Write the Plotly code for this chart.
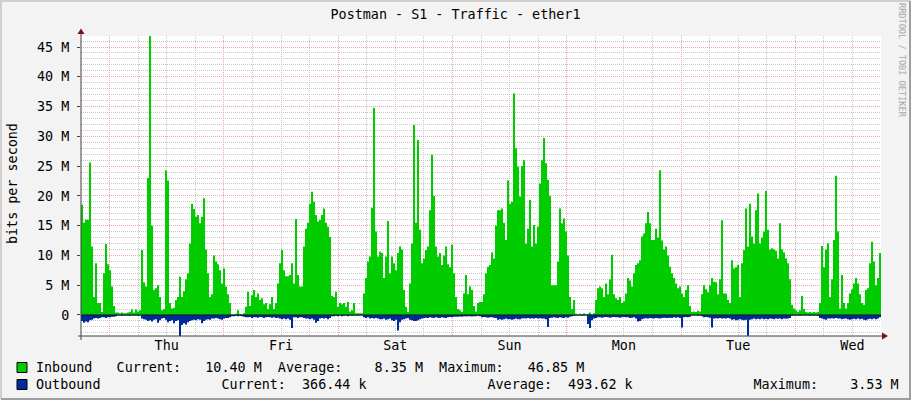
import plotly.graph_objects as go
import pandas as pd

# Traffic readings in Mbit/s, one every 1512 s, Wed 18:00 -> next Wed 18:00
inbound = [
    18.5, 15.5, 16, 16, 25.6, 11.5, 3, 8.7, 2, 2,
    0.5, 7, 11.9, 8.5, 7.5, 4.8, 1.5, 0.4, 0.4, 0.3,
    0.4, 0.3, 0.3, 0.4, 0.5, 0.9, 0.4, 0.9, 0.6, 0.8,
    10.9, 5.5, 4.8, 23, 46.85, 15, 4.2, 4.5, 5, 3,
    0.8, 1.0, 24.3, 22.6, 2, 1.1, 1.2, 2.5, 3, 6.4,
    3, 4, 6, 7, 12, 18.7, 17.8, 16.5, 16.8, 15.4,
    16.5, 19.6, 11, 7, 3, 3.5, 10, 9, 8.5, 7.5,
    5.3, 7.8, 4.8, 3.5, 2, 0.1, 0.1, 0.2, 0.8, 0.2,
    0.1, 0.3, 1.4, 3.9, 1.5, 3.3, 4.2, 3, 3.6, 2.5,
    2.8, 1.8, 2, 1, 1.8, 3, 1, 2, 5.3, 8.7,
    10.9, 7.5, 6.5, 6.5, 6.7, 8.7, 5.3, 16.1, 6.7, 4.8,
    4.8, 11.5, 14.5, 15.5, 18.7, 20.7, 19, 16.8, 15.7, 16,
    16.8, 17.9, 15.5, 14.8, 13.1, 3.2, 3, 3.9, 1.4, 2,
    1.8, 2, 1.4, 2.2, 0.6, 0.8, 2, 0.3, 0.3, 0.3,
    0.3, 3.6, 6.2, 9, 9.8, 18, 34.8, 14, 9.8, 10.6,
    10.4, 6.2, 9.8, 15.8, 7, 9.8, 8.7, 7.5, 10.4, 11.5,
    11, 4.2, 1.4, 0.5, 5.3, 12, 31.9, 15.5, 29.4, 14.3,
    8.7, 9.5, 10.9, 11.5, 17.6, 26.9, 20, 11.5, 9.8, 10.4,
    8.4, 10, 11.5, 8.5, 8, 11.8, 7, 3, 1, 0.8,
    0.5, 3.6, 6.7, 3.5, 4.8, 4.2, 1.5, 0.6, 2, 2.2,
    2.2, 3.5, 7, 8.1, 8.4, 10.5, 9.5, 15, 17.6, 17.6,
    17.9, 15.5, 12.6, 22.6, 18.7, 19, 37.2, 28, 24.9, 19.9,
    25, 26, 12, 14.5, 19.3, 11.5, 15.1, 12, 14.8, 22.1,
    26, 29.7, 25.5, 22.7, 20, 5, 5, 5, 9, 17.9,
    15.4, 16.2, 14, 10, 3, 1, 2.5, 0.2, 0.1, 0.2,
    0.1, 0.3, 0.1, 0.2, 0.4, 0.1, 0.3, 2.5, 4.5, 4.8,
    4.5, 3, 5.3, 3.5, 6, 10.1, 3.5, 2.8, 2.5, 3,
    2, 2.3, 3.6, 6.2, 5.8, 4.8, 7, 8.4, 8.7, 9.2,
    13.2, 13.7, 15.4, 17.3, 15.4, 12.6, 12.6, 14.5, 13, 24.3,
    12.5, 11, 11.5, 10, 8.1, 7, 6.2, 5.3, 4.5, 4.8,
    3.6, 3, 4.2, 5, 1.5, 0.5, 0.6, 0.5, 0.7, 0.6,
    3.5, 5, 4.3, 3.8, 5, 6.2, 5.6, 5.5, 3.5, 6,
    15.9, 3.6, 3.6, 2.5, 2, 9.2, 7.8, 8, 8.4, 3,
    8.7, 10.9, 17.9, 11.5, 18.7, 13.2, 12, 17.6, 20.4, 12,
    13, 14, 20.8, 14.3, 11, 11.2, 11, 10.8, 9.5, 15.4,
    11, 10.5, 9.5, 8.7, 6, 1.7, 1.1, 0.8, 0.5, 0.8,
    3.2, 1, 0.5, 0.4, 0.5, 0.4, 0.5, 0.4, 0.5, 2,
    11.6, 8, 11, 12, 3, 6, 12.6, 23.4, 14, 1.1,
    6.7, 2, 1.1, 2, 3.6, 4.3, 5.3, 6.2, 5.3, 3.5,
    2, 1.7, 4.2, 4.5, 8.7, 12.3, 9, 5, 6.2, 10.4,
]

outbound = [
    1.0, 1.3, 1.1, 1.2, 0.9, 0.8, 0.6, 0.5, 0.6, 0.5,
    0.4, 0.4, 0.5, 0.4, 0.4, 0.3, 0.3, 0.2, 0.1, 0.1,
    0.15, 0.1, 0.1, 0.1, 0.15, 0.1, 0.1, 0.1, 0.15, 0.1,
    0.6, 0.7, 0.8, 1.0, 0.9, 1.1, 0.8, 0.7, 1.3, 0.9,
    0.6, 0.5, 0.8, 1.2, 1.0, 0.9, 1.4, 1.0, 0.9, 3.53,
    1.7, 1.4, 1.6, 1.2, 1.0, 0.9, 0.8, 0.9, 0.7, 0.8,
    1.4, 1.0, 0.8, 0.7, 0.8, 0.6, 0.6, 0.5, 0.6, 0.7,
    0.8, 0.6, 0.5, 0.5, 0.4, 0.2, 0.2, 0.15, 0.2, 0.15,
    0.2, 0.3, 0.4, 0.4, 0.35, 0.5, 0.4, 0.4, 0.45, 0.35,
    0.4, 0.5, 0.4, 0.35, 0.4, 0.45, 0.4, 0.5, 0.45, 0.6,
    0.7, 0.6, 0.7, 0.6, 0.8, 2.2, 0.4, 0.4, 0.5, 0.4,
    0.4, 0.5, 0.6, 0.6, 0.7, 0.6, 0.8, 1.3, 1.0, 0.6,
    0.5, 0.6, 0.5, 0.7, 0.5, 0.2, 0.2, 0.15, 0.2, 0.1,
    0.2, 0.15, 0.1, 0.2, 0.1, 0.15, 0.1, 0.1, 0.15, 0.1,
    0.1, 0.4, 0.5, 0.4, 0.6, 0.5, 0.6, 0.5, 0.6, 0.7,
    0.7, 0.6, 0.8, 0.7, 0.6, 0.9, 1.0, 0.8, 2.6, 1.2,
    0.8, 0.7, 0.6, 0.5, 0.8, 0.9, 1.0, 1.0, 0.9, 0.7,
    0.6, 0.5, 0.45, 0.5, 0.4, 0.45, 0.5, 0.4, 0.45, 0.5,
    0.4, 0.45, 0.5, 0.4, 0.35, 0.4, 0.3, 0.3, 0.3, 0.25,
    0.3, 0.2, 0.25, 0.2, 0.2, 0.25, 0.2, 0.2, 0.15, 0.2,
    0.4, 0.35, 0.4, 0.45, 0.4, 0.4, 0.45, 0.5, 0.8, 0.7,
    0.8, 0.7, 0.6, 0.7, 0.7, 0.8, 0.7, 0.6, 0.7, 0.7,
    0.6, 0.55, 0.6, 0.5, 0.6, 0.55, 0.6, 0.5, 0.6, 0.55,
    0.6, 0.6, 0.7, 2.0, 0.5, 0.45, 0.4, 0.45, 0.5, 0.4,
    0.45, 0.5, 0.4, 0.45, 0.3, 0.2, 0.15, 0.1, 0.1, 0.1,
    0.15, 0.1, 0.1, 1.5, 2.2, 0.9, 0.6, 0.5, 0.4, 0.4,
    0.45, 0.4, 0.35, 0.4, 0.45, 0.4, 0.35, 0.4, 0.4, 0.45,
    0.4, 0.35, 0.4, 0.4, 0.5, 0.45, 0.4, 0.6, 1.1, 1.0,
    0.7, 0.6, 0.55, 0.6, 0.5, 0.55, 0.6, 0.5, 0.55, 0.6,
    0.5, 0.45, 0.5, 0.5, 0.45, 0.5, 0.4, 0.45, 0.4, 0.5,
    2.1, 0.4, 0.35, 0.4, 0.3, 0.1, 0.1, 0.1, 0.15, 0.1,
    0.2, 0.4, 0.35, 0.4, 0.45, 2.1, 0.6, 0.55, 0.6, 0.5,
    0.6, 0.55, 0.6, 0.5, 0.6, 0.8, 0.7, 0.9, 0.8, 0.7,
    0.8, 0.9, 0.8, 3.5, 0.8, 0.7, 0.6, 0.7, 0.65, 0.7,
    0.6, 0.7, 0.65, 0.7, 0.6, 0.65, 0.7, 0.6, 0.65, 0.6,
    0.7, 0.6, 0.65, 0.6, 0.5, 0.15, 0.1, 0.1, 0.1, 0.15,
    0.1, 0.1, 0.1, 0.1, 0.15, 0.1, 0.1, 0.1, 0.15, 0.5,
    0.6, 0.7, 0.8, 0.6, 0.6, 0.55, 0.6, 0.5, 0.6, 0.6,
    0.7, 0.65, 0.6, 0.7, 0.8, 0.7, 0.65, 0.7, 0.6, 0.7,
    0.65, 0.8, 0.9, 0.7, 0.65, 0.7, 0.6, 0.7, 0.6, 0.37,
]

ytick_vals = [0, 5, 10, 15, 20, 25, 30, 35, 40, 45]
ytick_text = ["0", "5 M", "10 M", "15 M", "20 M", "25 M", "30 M", "35 M", "40 M", "45 M"]
inbound_stats = ["10.40 M", "8.35 M", "46.85 M"]
outbound_stats = ["366.44 k", "493.62 k", "3.53 M"]

title = "Postman - S1 - Traffic - ether1"
start = pd.Timestamp("2024-01-03 18:00")
end = start + pd.Timedelta(days=7)
t = pd.date_range(start, end, periods=len(inbound) + 1)

MONO = "DejaVu Sans Mono"
GREEN, BLUE = "#00CC00", "#002A97"
MGRID, GRID = "#E8A8A8", "#C8C8C8"

# pixel helpers (plot area is 81..881 x 36..336 in a 911x400 canvas)
L, R, T, B = 81, 881, 36, 336
def px(x):
    return (x - L) / (R - L)
def py(y):
    return (B - y) / (B - T)

fig = go.Figure()
fig.add_trace(go.Scatter(x=t, y=inbound + [inbound[-1]], mode="lines",
                         line=dict(width=0, shape="hv"), fill="tozeroy",
                         fillcolor=GREEN, hoverinfo="skip"))
fig.add_trace(go.Scatter(x=t, y=[-v for v in outbound + [outbound[-1]]], mode="lines",
                         line=dict(width=0, shape="hv"), fill="tozeroy",
                         fillcolor=BLUE, hoverinfo="skip"))

fig.update_layout(
    width=911, height=400, showlegend=False,
    margin=dict(l=L, r=911 - R, t=T, b=400 - B, autoexpand=False),
    paper_bgcolor="#F3F3F3", plot_bgcolor="#FFFFFF",
    font=dict(family=MONO, size=13.4, color="#000000"),
    title=dict(text=title, x=0.5, xref="container", y=1 - 14 / 400, yanchor="middle",
               font=dict(family=MONO, size=13.4)),
)

fig.update_xaxes(
    type="date", range=[start, end], tick0="2024-01-04", dtick=86400000,
    ticklabelmode="period", tickformat="%a", ticks="",
    showgrid=True, gridcolor=MGRID, griddash="1px,1px", gridwidth=1,
    zeroline=False, showline=False,
    minor=dict(dtick=21600000, tick0="2024-01-04", showgrid=True, gridcolor=GRID,
               griddash="1px,1px"),
)
fig.update_yaxes(
    range=[-3.53, 46.85], tickvals=ytick_vals, ticktext=ytick_text,
    ticks="outside", ticklen=3, tickcolor="#444444", ticklabelstandoff=5,
    showgrid=True, gridcolor=MGRID, griddash="1px,1px", gridwidth=1,
    zeroline=False, showline=False,
    minor=dict(dtick=1, tick0=0, showgrid=True, gridcolor=GRID, griddash="1px,1px"),
)

shapes = []
# zero line
shapes.append(dict(type="line", xref="paper", yref="y", x0=0, x1=1, y0=0, y1=0,
                   line=dict(color="#101020", width=1)))
# axis lines
shapes.append(dict(type="line", xref="paper", yref="paper", x0=0, x1=0, y0=py(340), y1=py(31),
                   line=dict(color="#404040", width=1)))
shapes.append(dict(type="line", xref="paper", yref="paper", x0=px(78), x1=px(884), y0=0, y1=0,
                   line=dict(color="#404040", width=1)))
# axis arrows
shapes.append(dict(type="path", xref="paper", yref="paper",
                   path=f"M {px(77.5)} {py(34)} L {px(84.5)} {py(34)} L {px(81)} {py(28.5)} Z",
                   fillcolor="#801010", line=dict(width=0)))
shapes.append(dict(type="path", xref="paper", yref="paper",
                   path=f"M {px(882)} {py(332.5)} L {px(882)} {py(339.5)} L {px(888)} {py(336)} Z",
                   fillcolor="#801010", line=dict(width=0)))
# legend swatches
for ytop, col in [(362.5, GREEN), (379.5, BLUE)]:
    shapes.append(dict(type="rect", xref="paper", yref="paper",
                       x0=px(17), x1=px(27), y0=py(ytop + 10), y1=py(ytop),
                       fillcolor=col, line=dict(color="#000000", width=1)))
# 3D frame border
shapes.append(dict(type="path", xref="paper", yref="paper",
                   path=f"M {px(1)} {py(399)} L {px(1)} {py(1)} L {px(910)} {py(1)}",
                   line=dict(color="#CFCFCF", width=2)))
shapes.append(dict(type="path", xref="paper", yref="paper",
                   path=f"M {px(1)} {py(399)} L {px(910)} {py(399)} L {px(910)} {py(1)}",
                   line=dict(color="#9E9E9E", width=2)))
fig.update_layout(shapes=shapes)

row1 = ("Inbound   Current:   " + inbound_stats[0] + "  Average:    " + inbound_stats[1]
        + "  Maximum:   " + inbound_stats[2])
row2 = ("Outbound" + " " * 15 + "Current:  " + outbound_stats[0] + " " * 15
        + "Average:  " + outbound_stats[1] + " " * 15 + "Maximum:    " + outbound_stats[2])

annots = [
    dict(text=row1.replace(" ", "&nbsp;"), x=px(34), y=py(367.5)),
    dict(text=row2.replace(" ", "&nbsp;"), x=px(34), y=py(384.5)),
]
for a in annots:
    a.update(xref="paper", yref="paper", xanchor="left", yanchor="middle", showarrow=False,
             font=dict(family=MONO, size=13.4, color="#000000"))
annots.append(dict(text="bits per second", x=px(12), y=py(184), xref="paper", yref="paper",
                   textangle=-90, showarrow=False, xanchor="center", yanchor="middle",
                   font=dict(family=MONO, size=13.4, color="#000000")))
annots.append(dict(text="RRDTOOL / TOBI OETIKER", x=px(902), y=py(60), xref="paper", yref="paper",
                   textangle=90, showarrow=False, xanchor="center", yanchor="middle",
                   font=dict(family=MONO, size=8.6, color="#A8A8A8")))
fig.update_layout(annotations=annots)

fig.write_html("out.html", config={"displayModeBar": False},
               post_script="document.body.style.margin='0';")
